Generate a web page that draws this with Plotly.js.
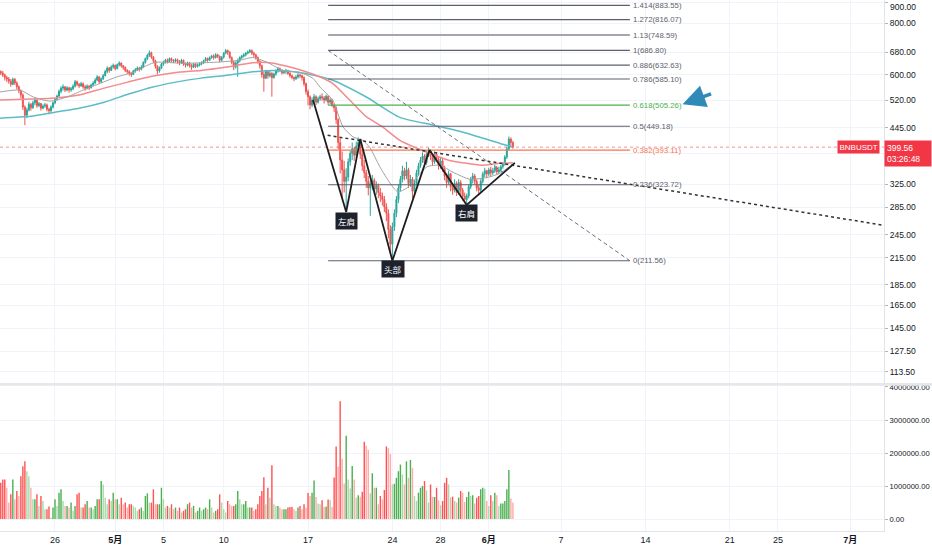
<!DOCTYPE html>
<html><head><meta charset="utf-8">
<script src="https://cdn.plot.ly/plotly-3.0.1.min.js"></script>
<style>html,body{margin:0;padding:0;background:#fff}#chart{width:932px;height:550px}</style>
</head><body><div id="chart"></div>
<script>
// ---------- DATA (4h candles, BNBUSDT) ----------
const firstCandle = '2021-04-21 12:00';
const firstOpen = 610;
const closes = [605,
 598,590,585,
 578,568,584,572,560,548,
 535,500,478,492,508,498,
 512,520,504,510,497,503,
 506,494,490,500,512,522,
 532,546,556,560,550,557,
 550,554,562,576,568,563,
 570,560,556,562,557,566,
 572,582,592,576,586,596,
 610,622,614,626,632,620,
 634,640,630,624,614,610,
 604,600,612,616,622,618,
 626,642,656,668,678,662,
 648,628,612,622,636,642,
 650,645,656,650,646,652,
 646,640,650,637,632,640,
 630,625,636,628,633,638,
 642,648,656,650,660,665,
 660,670,664,650,661,676,
 686,680,660,642,626,640,
 648,660,665,670,676,681,
 686,676,670,660,646,630,
 600,588,610,596,604,590,
 602,612,620,614,606,610,
 612,604,596,590,586,592,
 598,596,590,570,545,530,
 506,520,530,514,524,530,
 526,520,531,514,520,505,
 498,466,410,372,352,330,
 338,368,386,396,382,402,
 410,384,360,346,330,318,
 326,332,316,322,310,304,
 298,286,276,252,232,256,
 276,298,318,334,350,340,
 352,326,334,312,326,346,
 360,372,380,366,384,390,
 380,368,384,374,360,370,
 354,340,328,344,320,314,
 326,310,328,314,304,298,
 304,320,334,340,330,318,
 314,330,344,350,344,352,
 346,350,356,348,352,358,
 364,378,396,418,410,399.56];
const highs = [614,
 612,603,596,
 592,585,590,588,578,565,
 552,540,505,498,515,512,
 518,528,522,515,512,508,
 512,510,498,505,516,526,
 536,552,562,568,562,562,
 560,560,568,582,580,572,
 576,574,566,568,566,570,
 578,588,598,595,590,602,
 616,628,626,632,638,634,
 638,646,642,632,628,618,
 614,608,616,622,628,626,
 632,646,660,674,686,682,
 665,652,632,628,640,648,
 655,656,660,660,654,657,
 656,650,655,652,642,645,
 644,636,640,640,638,642,
 646,652,662,660,664,670,
 672,676,674,668,665,680,
 692,690,684,664,648,646,
 656,664,670,676,680,686,
 692,690,682,674,664,650,
 634,610,616,614,612,608,
 606,618,626,624,618,616,
 620,616,608,600,594,598,
 606,604,600,594,574,552,
 534,528,538,534,530,536,
 540,532,536,534,526,524,
 510,502,470,420,390,370,
 355,375,392,410,400,412,
 422,416,392,372,352,340,
 332,342,336,330,326,318,
 310,304,292,282,258,262,
 282,304,324,340,360,356,
 368,356,342,338,332,352,
 366,378,388,384,392,398,
 394,386,390,388,378,376,
 374,360,346,350,346,326,
 334,330,334,332,318,310,
 308,324,338,346,344,334,
 324,334,348,356,352,356,
 358,356,362,360,358,362,
 368,382,400,424,422,414];
const lows = [598,
 592,580,575,
 570,560,565,566,552,540,
 525,492,452,470,488,490,
 495,505,498,500,490,494,
 498,488,480,485,496,508,
 518,528,540,548,544,546,
 542,545,550,558,562,556,
 560,554,548,552,550,555,
 562,568,578,570,572,582,
 594,604,606,612,620,614,
 618,628,624,616,608,602,
 596,592,598,606,612,610,
 614,622,638,650,662,655,
 640,620,600,606,618,630,
 638,638,642,644,640,642,
 638,632,636,630,624,628,
 624,616,622,622,624,628,
 632,636,645,644,648,655,
 652,656,658,642,645,656,
 672,670,655,635,615,620,
 592,642,654,660,664,672,
 676,670,662,652,638,620,
 590,545,585,586,590,530,
 586,596,606,608,600,602,
 602,598,590,584,578,582,
 586,588,580,562,536,505,
 494,500,514,506,510,518,
 518,510,516,506,508,500,
 486,455,395,345,300,310,
 278,330,360,372,370,376,
 396,374,350,336,318,305,
 272,314,306,306,300,294,
 288,278,264,240,222,211.56,
 250,270,292,312,328,332,
 334,318,320,300,306,322,
 340,356,366,358,362,378,
 372,360,364,368,352,354,
 348,332,318,324,312,306,
 310,304,306,306,296,292,
 289,300,316,326,324,312,
 306,310,326,338,336,340,
 338,342,346,342,344,348,
 354,360,374,392,400,396];
// volume in millions
const volumes = [1.1,
 1.2,1.2,0.95,0.5,0.75,1.2,0.6,0.85,0.7,1.3,1.6,1.75,1.45,1.3,0.95,
 0.6,0.6,0.75,0.4,0.7,0.55,0.3,0.3,0.38,0.05,
 0.35,0.6,0.4,0.8,0.9,0.55,0.4,0.4,0.35,0.5,0.25,0.4,
 0.75,0.8,0.35,0.35,0.45,0.55,0.35,0.35,0.3,0.4,0.6,0.6,
 1.15,1.05,0.65,0.45,0.6,0.55,0.8,0.6,0.6,0.45,0.65,0.45,0.5,0.35,0.45,
 0.45,0.4,0.35,0.25,0.3,0.35,0.25,0.7,0.78,0.5,0.5,0.9,0.45,0.45,0.45,0.95,0.6,
 0.35,0.4,0.35,0.45,0.3,0.35,0.25,0.35,0.2,0.25,0.3,0.45,0.5,0.35,0.4,0.2,0.25,0.35,0.25,0.3,0.35,0.3,
 0.6,0.35,0.2,0.25,0.3,0.75,0.5,0.3,0.2,0.55,0.45,0.4,0.4,0.45,0.85,0.6,0.45,0.45,0.55,0.35,0.35,0.35,
 0.25,0.3,0.45,0.7,0.85,1.27,0.45,0.95,0.65,1.63,0.45,0.4,0.4,0.35,0.3,0.3,0.3,0.35,0.37,0.37,0.3,0.25,
 0.35,0.4,0.3,0.45,0.35,0.79,0.7,0.8,1.17,
 0.67,0.47,0.45,0.57,0.37,0.38,0.59,0.57,0.37,
 1.26,2.2,1.59,3.57,1.83,1.08,2.52,1.2,0.93,1.61,1.2,0.65,0.72,0.68,0.83,
 2.34,2.22,2.1,0.78,1.39,0.95,0.95,0.45,0.7,0.6,0.88,
 2.2,2.15,1.97,1.05,1.07,1.25,1.45,1.65,1.35,1.05,1.75,1.25,1.79,1.55,
 0.7,0.55,0.8,0.95,1.0,1.15,0.87,0.5,1.05,0.67,0.67,0.95,0.57,0.42,0.55,1.1,1.25,
 1.05,0.65,0.68,0.55,0.5,0.65,0.85,0.8,0.52,0.67,0.83,0.7,0.72,0.47,0.65,0.7,0.9,
 0.95,0.92,0.55,0.4,0.72,0.55,0.8,0.72,0.4,0.47,0.47,0.55,0.9,1.49,0.62,0.5];

// moving averages
const grayX = ['2021-04-21 10:00','2021-04-23 02:00','2021-04-24 05:00','2021-04-25 14:00','2021-04-27 00:00','2021-04-28 08:00','2021-04-29 18:00','2021-05-01 03:00','2021-05-02 11:00','2021-05-03 21:00','2021-05-04 11:00','2021-05-06 15:00','2021-05-09 10:00','2021-05-11 08:00','2021-05-12 10:00','2021-05-13 14:00','2021-05-14 22:00','2021-05-16 08:00','2021-05-17 10:00','2021-05-18 00:00','2021-05-19 01:00','2021-05-19 22:00','2021-05-20 18:00','2021-05-21 13:00','2021-05-22 03:00','2021-05-22 23:00','2021-05-23 19:00','2021-05-24 11:00','2021-05-25 05:00','2021-05-26 01:00','2021-05-26 21:00','2021-05-27 23:00','2021-05-29 01:00','2021-05-30 10:00','2021-05-31 20:00','2021-06-01 22:00','2021-06-02 18:00','2021-06-03 04:00'];
const grayY = [544,550,529,517,529,550,571,592,607,636,643,639,643,650,660,643,614,607,587,559,520,447,423,415,399,358,327,311,318,338,358,361,347,334,337,345,359,366];
const redX = ['2021-04-21 10:00','2021-04-24 00:00','2021-04-26 00:00','2021-04-28 00:00','2021-04-30 02:00','2021-05-02 01:00','2021-05-04 01:00','2021-05-06 01:00','2021-05-08 03:00','2021-05-10 03:00','2021-05-12 03:00','2021-05-13 03:00','2021-05-14 03:00','2021-05-15 04:00','2021-05-16 04:00','2021-05-17 12:00','2021-05-19 01:00','2021-05-20 11:00','2021-05-21 20:00','2021-05-23 05:00','2021-05-24 15:00','2021-05-26 01:00','2021-05-27 09:00','2021-05-28 18:00','2021-05-30 04:00','2021-05-31 12:00','2021-06-01 22:00','2021-06-03 00:00'];
const redY = [520,523,526,535,556,575,594,607,614,625,639,643,639,629,618,600,571,520,474,447,415,397,383,371,365,361,365,366];
const tealX = ['2021-04-21 10:00','2021-04-24 00:00','2021-04-26 00:00','2021-04-28 00:00','2021-04-30 02:00','2021-05-02 01:00','2021-05-04 01:00','2021-05-06 01:00','2021-05-08 03:00','2021-05-10 03:00','2021-05-12 03:00','2021-05-14 03:00','2021-05-16 08:00','2021-05-19 01:00','2021-05-21 20:00','2021-05-24 15:00','2021-05-27 09:00','2021-05-30 04:00','2021-06-01 22:00','2021-06-03 00:00'];
const tealY = [470,475,486,497,514,537,559,575,588,597,608,614,607,581,529,472,452,432,408,400];

// fibonacci retracement
const fibRatios = ['1.414','1.272','1.13','1','0.886','0.786','0.618','0.5','0.382','0.236','0'];
const fibPrices = [883.55,816.07,748.59,686.80,632.63,585.10,505.26,449.18,393.11,323.72,211.56];
const fibStart = '2021-05-18 16:00', fibEnd = '2021-06-12 17:00';

// head & shoulders pattern
const hsX = ['2021-05-17 10:00','2021-05-20 04:00','2021-05-21 08:00','2021-05-24 00:00','2021-05-27 02:00','2021-05-30 04:00','2021-06-03 04:00'];
const hsY = [520,278,418,211.56,393,289,366];
const hsLabels = ['左肩','头部','右肩'];
const hsLabelX = ['2021-05-20 03:40','2021-05-24 01:10','2021-05-30 02:40'];
const hsLabelY = [264,202,276];

// trend lines
const dotX = ['2021-05-18 15:00','2021-07-03 19:00'], dotY = [427,258];
const lastPrice = 399.56, countdown = '03:26:48', symbol = 'BNBUSDT';

// axes
const xRange = ['2021-04-21 10:28','2021-07-03 19:12'];
const xTickVals = ['2021-04-26','2021-05-01','2021-05-05','2021-05-10','2021-05-17','2021-05-24','2021-05-28','2021-06-01','2021-06-07','2021-06-14','2021-06-21','2021-06-25','2021-07-01'];
const xTickText = ['26','<b>5月</b>','5','10','17','24','28','<b>6月</b>','7','14','21','25','<b>7月</b>'];
const priceTicks = [113.5,127.5,145,165,185,215,245,285,325,385,445,520,600,680,800,900];
const priceTickText = ['113.50','127.50','145.00','165.00','185.00','215.00','245.00','285.00','325.00','','445.00','520.00','600.00','680.00','800.00',''];
const topTickText = '900.00';
const volTicks = [0,1,2,3,4];
const volTickText = ['0.00','1000000.00','2000000.00','3000000.00','4000000.00'];

// ---------- BUILD ----------
const FONT = "'Liberation Sans','Noto Sans CJK SC',sans-serif";
const t0 = new Date(firstCandle.replace(' ','T')+':00Z').getTime();
const times = closes.map((_,i)=>new Date(t0+i*4*3600e3).toISOString().slice(0,16).replace('T',' '));
const opens = closes.map((c,i)=> i===0 ? firstOpen : closes[i-1]);
const volColors = volumes.map((v,i)=>{
  const up = closes[i] >= opens[i];
  const strong = i===0 || v >= volumes[i-1];
  if (up) return strong ? '#4caf50' : '#a9d8ab';
  return strong ? '#ff5252' : '#ffabab';
});

const traces = [];
traces.push({type:'candlestick', x:times, open:opens, high:highs, low:lows, close:closes,
  xaxis:'x', yaxis:'y', whiskerwidth:0, hoverinfo:'skip', showlegend:false,
  increasing:{line:{color:'#26a69a',width:1}, fillcolor:'#26a69a'},
  decreasing:{line:{color:'#ef5350',width:1}, fillcolor:'#ef5350'}});
traces.push({type:'bar', x:times, y:volumes, xaxis:'x', yaxis:'y2', marker:{color:volColors, line:{width:0}}, hoverinfo:'skip', showlegend:false});
const line = (x,y,color,width,dash,shape) => ({type:'scatter', mode:'lines', x, y, xaxis:'x', yaxis:'y',
  line:{color, width, dash:dash||'solid', shape:shape||'linear', smoothing:0.6}, hoverinfo:'skip', showlegend:false});
traces.push(line(xRange, [lastPrice,lastPrice], 'rgba(242,54,69,0.55)', 1, 'dot'));
traces.push(line(tealX, tealY, '#5bbcc6', 1.5, 'solid', 'spline'));
traces.push(line(redX, redY, '#f58a8c', 1.5, 'solid', 'spline'));
traces.push(line(grayX, grayY, '#a3a3a3', 1, 'solid', 'spline'));
const fibColors = fibRatios.map(r => r==='0.618' ? '#4caf50' : r==='0.382' ? '#f7764e' : r==='1.13' ? '#a3a6af' : '#5d606b');
fibPrices.forEach((p,k)=>{
  traces.push(line([fibStart, fibEnd], [p,p], fibColors[k], fibRatios[k]==='1.13' ? 2 : 1.2));
});
traces.push(line([fibStart, fibEnd], [fibPrices[3], fibPrices[10]], '#6b6e77', 1, '4px,3px'));
traces.push(line(dotX, dotY, '#333', 1.5, 'dot'));
traces.push(line(hsX, hsY, '#1e1e1e', 1.8));

const L = v => Math.log10(v);
const annotations = [];
fibPrices.forEach((p,k)=>{
  annotations.push({x:fibEnd, y:L(p), xref:'x', yref:'y', text:fibRatios[k]+'('+p.toFixed(2)+')',
    showarrow:false, xanchor:'left', yanchor:'middle', xshift:1, font:{size:7.8, color:fibColors[k]==='#a3a6af' ? '#5d606b' : fibColors[k], family:FONT}});
});
hsLabels.forEach((t,k)=>{
  annotations.push({x:hsLabelX[k], y:L(hsLabelY[k]), xref:'x', yref:'y', text:t, showarrow:false,
    bgcolor:'#1e222d', borderpad:2, font:{size:8.5, color:'#ffffff', family:"'Noto Sans CJK SC',sans-serif"}});
});
annotations.push({x:'2021-06-17 02:00', y:L(508), xref:'x', yref:'y', text:'', showarrow:true,
  ax:30, ay:-11, arrowhead:2, arrowsize:1.3, arrowwidth:3.5, arrowcolor:'#2f8ab8'});
annotations.push({x:1, xref:'paper', y:1, yref:'paper', xanchor:'left', yanchor:'top', xshift:4,
  text:topTickText, showarrow:false, font:{size:8.5, color:'#131722', family:FONT}});
annotations.push({x:1, xref:'paper', y:L(lastPrice), yref:'y', xanchor:'left', yanchor:'top', yshift:7,
  text:lastPrice.toFixed(2)+'<br>'+countdown, showarrow:false, align:'left', bgcolor:'#f23645', borderpad:2,
  width:42, font:{size:8.5, color:'#ffffff', family:FONT}});
annotations.push({x:0.9955, xref:'paper', y:L(lastPrice), yref:'y', xanchor:'right', yanchor:'middle',
  text:symbol, showarrow:false, bgcolor:'#f23645', borderpad:1.5, font:{size:8, color:'#ffffff', family:FONT}});

const layout = {
  width:932, height:550, margin:{l:0, r:48, t:0, b:19}, autosize:false,
  paper_bgcolor:'#ffffff', plot_bgcolor:'#ffffff', showlegend:false, bargap:0.3,
  font:{family:FONT, size:8.5, color:'#131722'},
  xaxis:{type:'date', range:xRange, anchor:'y2', tickmode:'array', tickvals:xTickVals, ticktext:xTickText,
    tickangle:0, showgrid:true, gridcolor:'#f0f3fa', gridwidth:1, zeroline:false, showline:true, linecolor:'#e0e3eb',
    ticks:'', rangeslider:{visible:false}, tickfont:{size:9, color:'#131722', family:FONT}, automargin:false, fixedrange:true},
  yaxis:{domain:[0.2787,1], type:'log', range:[L(106.7), L(910.6)], side:'right', anchor:'x',
    tickmode:'array', tickvals:priceTicks, ticktext:priceTickText, showgrid:true, gridcolor:'#f0f3fa',
    ticks:'outside', ticklen:3, tickcolor:'#b2b5be', showline:true, linecolor:'#e0e3eb', zeroline:false, automargin:false,
    tickfont:{size:8.5, color:'#131722', family:FONT}},
  yaxis2:{domain:[0,0.2731], range:[-0.36,4.03], side:'right', anchor:'x',
    tickmode:'array', tickvals:volTicks, ticktext:volTickText, showgrid:true, gridcolor:'#f0f3fa',
    ticks:'outside', ticklen:3, tickcolor:'#b2b5be', showline:true, linecolor:'#e0e3eb', zeroline:false, automargin:false,
    tickfont:{size:7.6, color:'#131722', family:FONT}},
  shapes:[{type:'rect', xref:'paper', yref:'paper', x0:0, x1:1.06, y0:0.2735, y1:0.2787, fillcolor:'#e6e7eb', line:{width:0}, layer:'above'}],
  annotations
};
Plotly.newPlot('chart', traces, layout, {staticPlot:true, displayModeBar:false});
</script>
</body></html>
